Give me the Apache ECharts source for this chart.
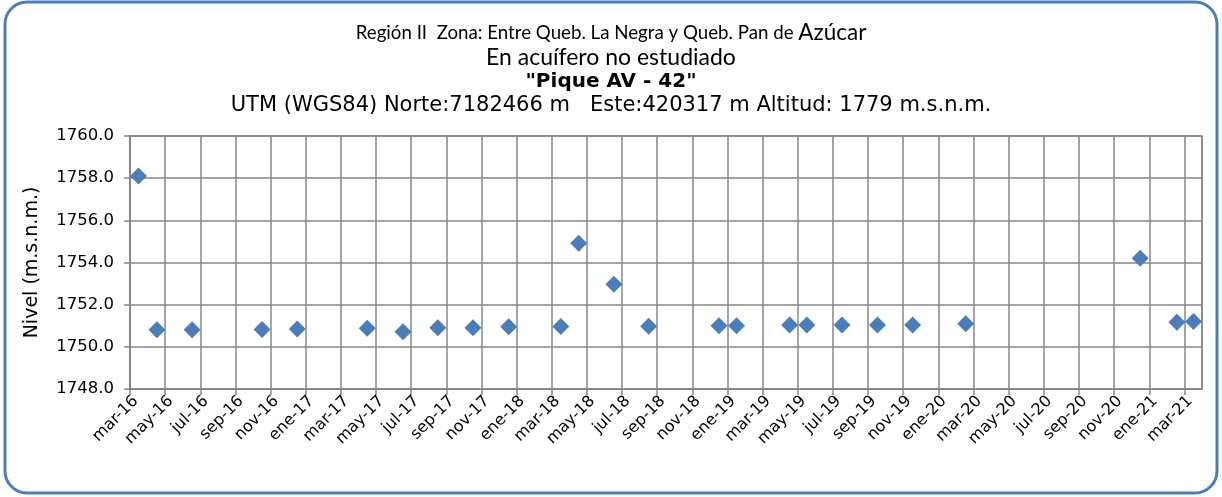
<!DOCTYPE html>
<html>
<head>
<meta charset="utf-8">
<script src="https://cdn.jsdelivr.net/npm/echarts@6/dist/echarts.min.js"></script>
<style>
  html, body { margin: 0; padding: 0; background: #fff; }
  #chart { width: 1222px; height: 497px; }
</style>
</head>
<body>
<div id="chart"></div>
<script>
// fechas de medición y nivel (m.s.n.m.)
const fechas = ['2016-03-16', '2016-04-17', '2016-06-17', '2016-10-17', '2016-12-17',
  '2017-04-16', '2017-06-17', '2017-08-17', '2017-10-17', '2017-12-18',
  '2018-03-17', '2018-04-17', '2018-06-17', '2018-08-17', '2018-12-17',
  '2019-01-17', '2019-04-17', '2019-05-17', '2019-07-17', '2019-09-17',
  '2019-11-17', '2020-02-17', '2020-12-16', '2021-02-17', '2021-03-17']
const niveles = [1758.1, 1750.81, 1750.81, 1750.82, 1750.85,
  1750.88, 1750.71, 1750.9, 1750.91, 1750.95,
  1750.97, 1754.91, 1752.97, 1750.98, 1751.0,
  1751.0, 1751.03, 1751.03, 1751.03, 1751.03,
  1751.04, 1751.09, 1754.2, 1751.17, 1751.2]
// etiquetas del eje x, cada 2 meses desde mar-16
const etiquetasX = ['mar-16', 'may-16', 'jul-16', 'sep-16', 'nov-16', 'ene-17',
  'mar-17', 'may-17', 'jul-17', 'sep-17', 'nov-17', 'ene-18',
  'mar-18', 'may-18', 'jul-18', 'sep-18', 'nov-18', 'ene-19',
  'mar-19', 'may-19', 'jul-19', 'sep-19', 'nov-19', 'ene-20',
  'mar-20', 'may-20', 'jul-20', 'sep-20', 'nov-20', 'ene-21', 'mar-21']

// meses transcurridos desde el 1 de marzo de 2016
function mesesDesdeInicio (fecha) {
  const [y, m, d] = fecha.split('-').map(Number)
  const diasMes = new Date(y, m, 0).getDate()
  return (y - 2016) * 12 + (m - 3) + (d - 1) / diasMes
}

const puntos = fechas.map((f, i) => [mesesDesdeInicio(f), niveles[i]])

const gris = '#868686'
const chart = echarts.init(document.getElementById('chart'))
chart.setOption({
  animation: false,
  backgroundColor: '#fff',
  graphic: [{
    type: 'rect',
    shape: { x: 5, y: 2, width: 1212, height: 491, r: 22 },
    style: { fill: 'none', stroke: '#4a7ebb', lineWidth: 3 }
  }],
  title: [
    {
      left: 'center', top: 21, padding: 0,
      text: '{a|Región II  Zona: Entre Queb. La Negra y Queb. Pan de }{b|Azúcar}',
      textStyle: {
        fontWeight: 'normal',
        rich: {
          a: { fontFamily: 'Lato', fontSize: 18.7, fontWeight: 'normal', color: '#000' },
          b: { fontFamily: 'Lato', fontSize: 22.5, fontWeight: 'normal', color: '#000' }
        }
      }
    },
    {
      left: 'center', top: 46, padding: 0,
      text: 'En acuífero no estudiado',
      textStyle: { fontFamily: 'Lato', fontSize: 23, fontWeight: 'normal', color: '#000' }
    },
    {
      left: 'center', top: 72, padding: 0,
      text: '"Pique AV - 42"',
      textStyle: { fontFamily: 'DejaVu Sans', fontSize: 20, fontWeight: 'bold', color: '#000' }
    },
    {
      left: 'center', top: 95, padding: 0,
      text: 'UTM (WGS84) Norte:7182466 m   Este:420317 m Altitud: 1779 m.s.n.m.',
      textStyle: { fontFamily: 'DejaVu Sans', fontSize: 21, fontWeight: 'normal', color: '#000' }
    }
  ],
  grid: {
    left: 130, right: 20, top: 136, bottom: 108,
    show: true, borderColor: gris, borderWidth: 1.5
  },
  xAxis: {
    type: 'value',
    min: 0,
    max: 61,
    interval: 2,
    axisLine: { show: true, lineStyle: { color: gris, width: 1.5 } },
    axisTick: { show: true, length: 6, lineStyle: { color: gris, width: 1.5 } },
    splitLine: { show: true, lineStyle: { color: gris, width: 1.5 } },
    axisLabel: {
      rotate: 45,
      margin: 4,
      verticalAlign: 'top',
      fontFamily: 'DejaVu Sans',
      fontSize: 16,
      color: '#000',
      showMaxLabel: false,
      formatter: v => (v % 2 === 0 && etiquetasX[v / 2]) ? etiquetasX[v / 2] : ''
    }
  },
  yAxis: {
    type: 'value',
    min: 1748,
    max: 1760,
    interval: 2,
    name: 'Nivel (m.s.n.m.)',
    nameLocation: 'middle',
    nameGap: 88,
    nameTextStyle: { fontFamily: 'DejaVu Sans', fontSize: 19, color: '#000' },
    axisLine: { show: true, lineStyle: { color: gris, width: 1.5 } },
    axisTick: { show: true, length: 6, lineStyle: { color: gris, width: 1.5 } },
    splitLine: { show: true, lineStyle: { color: gris, width: 1.5 } },
    axisLabel: {
      margin: 16,
      fontFamily: 'DejaVu Sans',
      fontSize: 16.5,
      color: '#000',
      formatter: v => v.toFixed(1)
    }
  },
  series: [{
    type: 'scatter',
    symbol: 'diamond',
    symbolSize: 17,
    itemStyle: { color: '#4a7ebb', opacity: 1 },
    data: puntos
  }]
})
</script>
</body>
</html>
